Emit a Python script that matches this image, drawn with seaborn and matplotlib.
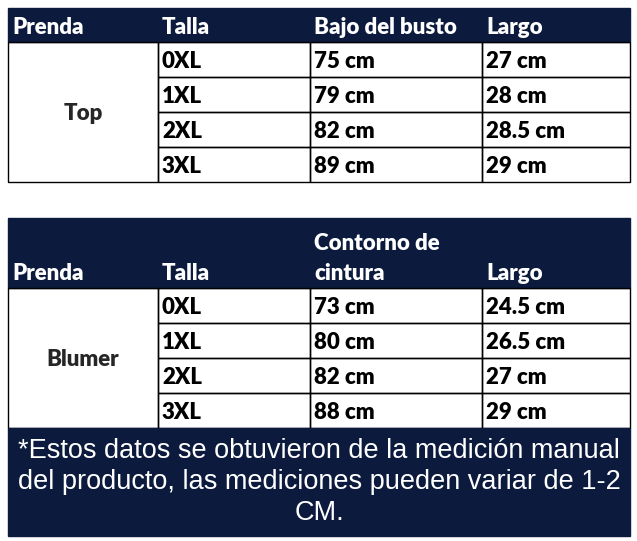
import matplotlib
matplotlib.use("Agg")
import matplotlib.pyplot as plt
import seaborn as sns
from matplotlib.patches import Rectangle

sns.set_theme(style="white")
plt.rcParams['font.family'] = ['Lato', 'DejaVu Sans']

sizes = ["0XL", "1XL", "2XL", "3XL"]
top_busto = ["75 cm", "79 cm", "82 cm", "89 cm"]
top_largo = ["27 cm", "28 cm", "28.5 cm", "29 cm"]
blu_cintura = ["73 cm", "80 cm", "82 cm", "88 cm"]
blu_largo = ["24.5 cm", "26.5 cm", "27 cm", "29 cm"]
head1 = ["Prenda", "Talla", "Bajo del busto", "Largo"]
head2 = ["Prenda", "Talla", "Contorno de\ncintura", "Largo"]
note = "*Estos datos se obtuvieron de la medición manual\ndel producto, las mediciones pueden variar de 1-2\nCM."

NAVY = "#0c1a3e"
cols = [8, 158, 310, 482, 630]
FS = 16

fig = plt.figure(figsize=(6.37, 5.41), dpi=100)
ax = fig.add_axes([0, 0, 1, 1])
ax.set_xlim(0, 637); ax.set_ylim(541, 0); ax.axis("off")

def table(y0, hh, heads, name, c3, c4):
    ax.add_patch(Rectangle((cols[0], y0), cols[-1]-cols[0], hh, color=NAVY))
    for i, h in enumerate(heads):
        ax.text(cols[i]+4, y0+hh-4, h, color="white", fontsize=FS, fontweight="heavy",
                va="bottom", ha="left", linespacing=1.5)
    rh = 35
    ys = y0 + hh
    for r in range(4):
        y = ys + r*rh
        for c in range(1, 4):
            ax.add_patch(Rectangle((cols[c], y), cols[c+1]-cols[c], rh, fill=False, ec="black", lw=1))
        for c, v in zip(range(1, 4), [sizes[r], c3[r], c4[r]]):
            ax.text(cols[c]+4, y+rh/2+2, v, fontsize=FS, fontweight="heavy", va="center", ha="left", color="black")
    ax.add_patch(Rectangle((cols[0], ys), cols[1]-cols[0], 4*rh, fill=False, ec="black", lw=1))
    ax.text((cols[0]+cols[1])/2, ys+2*rh+2, name, fontsize=FS, fontweight="heavy", ha="center", va="center")
    return ys + 4*rh

table(8, 34, head1, "Top", top_busto, top_largo)
end = table(218, 70, head2, "Blumer", blu_cintura, blu_largo)
ax.add_patch(Rectangle((cols[0], end), cols[-1]-cols[0], 536-end, color=NAVY))
ax.text((cols[0]+cols[-1])/2, (end+536)/2, note, color="white", fontsize=19.5,
        family=["Liberation Sans", "DejaVu Sans"], ha="center", va="center", linespacing=1.25)

fig.savefig("out.png", dpi=100)
